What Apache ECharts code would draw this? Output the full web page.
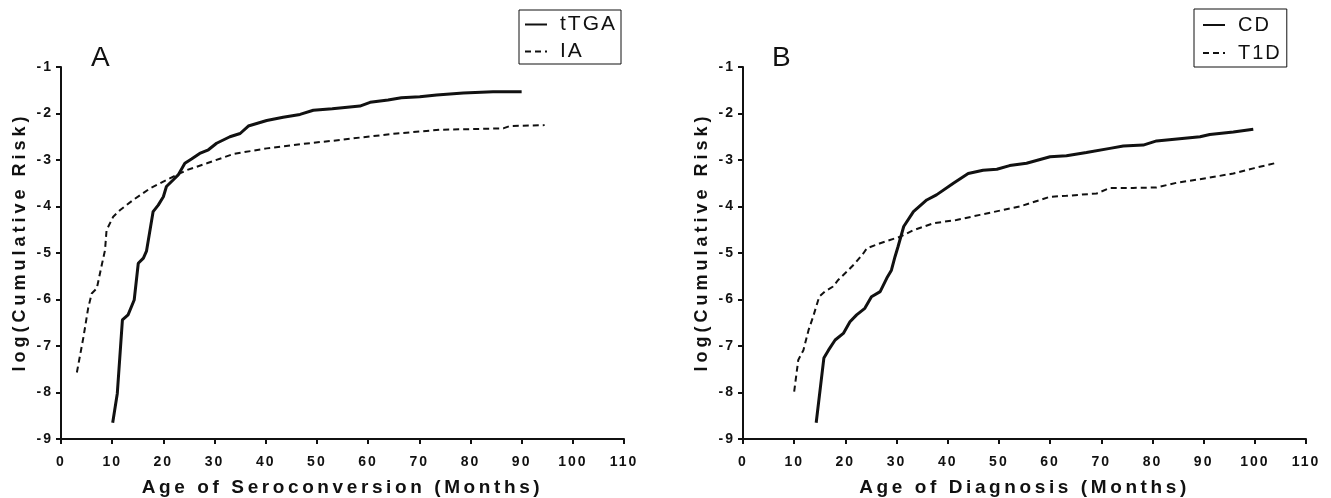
<!DOCTYPE html>
<html>
<head>
<meta charset="utf-8">
<script src="https://cdn.jsdelivr.net/npm/echarts@6/dist/echarts.min.js"></script>
<style>html,body{margin:0;padding:0;background:#fff;}#c{width:1331px;height:498px;}</style>
</head>
<body>
<div id="c"></div>
<script>
// Panel A
const tTGA_x = [10.1, 11, 12, 13.1, 14.3, 15.1, 16.1, 16.7, 18, 19, 20, 20.6, 21.9, 22.9, 24.2, 25.5, 27.1, 28.8, 30.4, 33, 35, 36.6, 40.2, 43.4, 46.7, 49.3, 53, 58.4, 60.4, 63.9, 66.5, 70.1, 73.4, 78.6, 84.4, 90];
const tTGA_y = [-8.65, -8.02, -6.44, -6.33, -6.01, -5.22, -5.11, -4.96, -4.11, -3.97, -3.79, -3.57, -3.43, -3.32, -3.07, -2.98, -2.86, -2.78, -2.64, -2.5, -2.43, -2.27, -2.15, -2.08, -2.02, -1.93, -1.9, -1.84, -1.76, -1.71, -1.66, -1.64, -1.6, -1.56, -1.53, -1.53];
const IA_x = [3.1, 4.4, 5.3, 6.0, 7, 7.9, 8.6, 8.9, 10.2, 11.5, 14.1, 17.4, 20.6, 24.5, 28.5, 33.7, 40.2, 46.7, 54.5, 59, 65.6, 74, 86.4, 87.7, 94.5];
const IA_y = [-7.57, -6.8, -6.19, -5.87, -5.76, -5.29, -4.94, -4.51, -4.22, -4.08, -3.86, -3.61, -3.43, -3.22, -3.07, -2.87, -2.75, -2.66, -2.57, -2.51, -2.43, -2.35, -2.32, -2.27, -2.25];
// Panel B
const CD_x = [14.3, 15.8, 16.7, 18, 19.6, 20.9, 22.2, 23.8, 25.1, 26.8, 28.1, 29, 29.7, 30.3, 31.4, 33.3, 35.9, 37.8, 41.1, 44, 46.9, 49.6, 52.1, 55.4, 60, 63.2, 67.1, 71.7, 74.3, 78.2, 80.8, 89.3, 91.2, 95.8, 99.7];
const CD_y = [-8.65, -7.26, -7.09, -6.87, -6.73, -6.48, -6.33, -6.19, -5.94, -5.83, -5.54, -5.37, -5.08, -4.86, -4.43, -4.11, -3.86, -3.75, -3.5, -3.29, -3.22, -3.2, -3.12, -3.07, -2.93, -2.91, -2.84, -2.75, -2.7, -2.68, -2.59, -2.5, -2.45, -2.4, -2.34];
const T1D_x = [10, 10.8, 11.8, 12.8, 13.7, 14.9, 16, 17.6, 18.6, 20.3, 21.9, 23.5, 24.2, 26.8, 30.7, 33.3, 37.2, 41.7, 46.3, 51, 54.1, 60, 63.2, 69.1, 71.7, 76.2, 80.8, 84.7, 90.6, 95.8, 99.7, 103.9];
const T1D_y = [-7.98, -7.3, -7.09, -6.66, -6.37, -5.94, -5.83, -5.72, -5.58, -5.4, -5.22, -5.01, -4.9, -4.79, -4.65, -4.51, -4.36, -4.29, -4.18, -4.07, -4.0, -3.79, -3.77, -3.72, -3.6, -3.6, -3.59, -3.49, -3.39, -3.29, -3.18, -3.07];

const panelLabels = ['A', 'B'];
const xTitles = ['Age of Seroconversion (Months)', 'Age of Diagnosis (Months)'];
const yTitle = 'log(Cumulative Risk)';
const seriesNames = [['tTGA', 'IA'], ['CD', 'T1D']];

// Emulate the wide letter spacing of the original figure's text.
(function () {
  const proto = CanvasRenderingContext2D.prototype;
  const desc = Object.getOwnPropertyDescriptor(proto, 'font');
  if (!desc || !('letterSpacing' in proto)) return;
  Object.defineProperty(proto, 'font', {
    configurable: true,
    get() { return desc.get.call(this); },
    set(v) {
      desc.set.call(this, v);
      let ls = '0px';
      if (/bold/.test(v) && /\b14px/.test(v)) ls = '2px';
      else if (/bold/.test(v) && /\b19px/.test(v)) ls = '3.6px';
      else if (/bold/.test(v) && /\b18px/.test(v)) ls = '4px';
      else if (/\b21px/.test(v) || /\b20px/.test(v)) ls = '2px';
      this.letterSpacing = ls;
    }
  });
})();

function pairs(xs, ys) { return xs.map((x, i) => [x, ys[i]]); }

const FONT = '"Liberation Sans", Arial, sans-serif';
const INK = '#111';
const gridLefts = [61, 743];

const xAxis = gridLefts.map((l, i) => ({
  type: 'value', gridIndex: i, min: 0, max: 110, interval: 10,
  name: xTitles[i], nameLocation: 'middle', nameGap: 37,
  nameTextStyle: { fontFamily: FONT, fontWeight: 'bold', fontSize: 19, color: INK },
  axisLine: { show: true, lineStyle: { color: INK, width: 2 } },
  axisTick: { show: true, length: 5, lineStyle: { color: INK, width: 2 } },
  axisLabel: { margin: 15, fontFamily: FONT, fontWeight: 'bold', fontSize: 14, color: INK },
  splitLine: { show: false }
}));
const yAxis = gridLefts.map((l, i) => ({
  type: 'value', gridIndex: i, min: -9, max: -1, interval: 1,
  name: yTitle, nameLocation: 'middle', nameGap: 30, nameRotate: 90,
  nameTextStyle: { fontFamily: FONT, fontWeight: 'bold', fontSize: 18, color: INK, padding: [0, 0, 0, 22] },
  axisLine: { show: true, lineStyle: { color: INK, width: 2 } },
  axisTick: { show: true, length: 5, lineStyle: { color: INK, width: 2 } },
  axisLabel: { margin: 8, fontFamily: FONT, fontWeight: 'bold', fontSize: 14, color: INK },
  splitLine: { show: false }
}));

const data = [[pairs(tTGA_x, tTGA_y), pairs(IA_x, IA_y)], [pairs(CD_x, CD_y), pairs(T1D_x, T1D_y)]];
const series = [];
for (let p = 0; p < 2; p++) {
  series.push({ name: seriesNames[p][0], type: 'line', xAxisIndex: p, yAxisIndex: p, data: data[p][0], symbol: 'none', smooth: false,
    lineStyle: { color: INK, width: 3, type: 'solid' }, itemStyle: { color: INK }, animation: false });
  series.push({ name: seriesNames[p][1], type: 'line', xAxisIndex: p, yAxisIndex: p, data: data[p][1], symbol: 'none', smooth: false,
    lineStyle: { color: INK, width: 2, type: [6, 4] }, itemStyle: { color: INK }, animation: false });
}

const legendPos = [
  { left: 519, top: 10, padding: [3, 4, 1, 5], itemGap: 4, fs: 21 },
  { left: 1194, top: 9, padding: [5, 5, 3, 8], itemGap: 6, fs: 20 }
];
const legend = legendPos.map((pos, i) => ({
  data: seriesNames[i], orient: 'vertical', left: pos.left, top: pos.top,
  borderColor: INK, borderWidth: 1, borderRadius: 0, padding: pos.padding, itemGap: pos.itemGap,
  itemWidth: 22, itemHeight: 12,
  itemStyle: { color: 'rgba(0,0,0,0)', borderWidth: 0, opacity: 0 },
  textStyle: { fontFamily: FONT, fontSize: pos.fs, color: INK, padding: [0, 0, 0, 8] }
}));

const chart = echarts.init(document.getElementById('c'), null, { renderer: 'canvas' });
chart.setOption({
  backgroundColor: '#fff',
  animation: false,
  grid: gridLefts.map(l => ({ left: l, top: 67, width: 563, height: 372, containLabel: false, outerBoundsMode: 'none' })),
  xAxis, yAxis, series, legend,
  graphic: panelLabels.map((t, i) => ({
    type: 'text', left: [91, 772][i], top: 44,
    style: { text: t, font: '28px ' + FONT, fill: INK }
  }))
});
</script>
</body>
</html>
